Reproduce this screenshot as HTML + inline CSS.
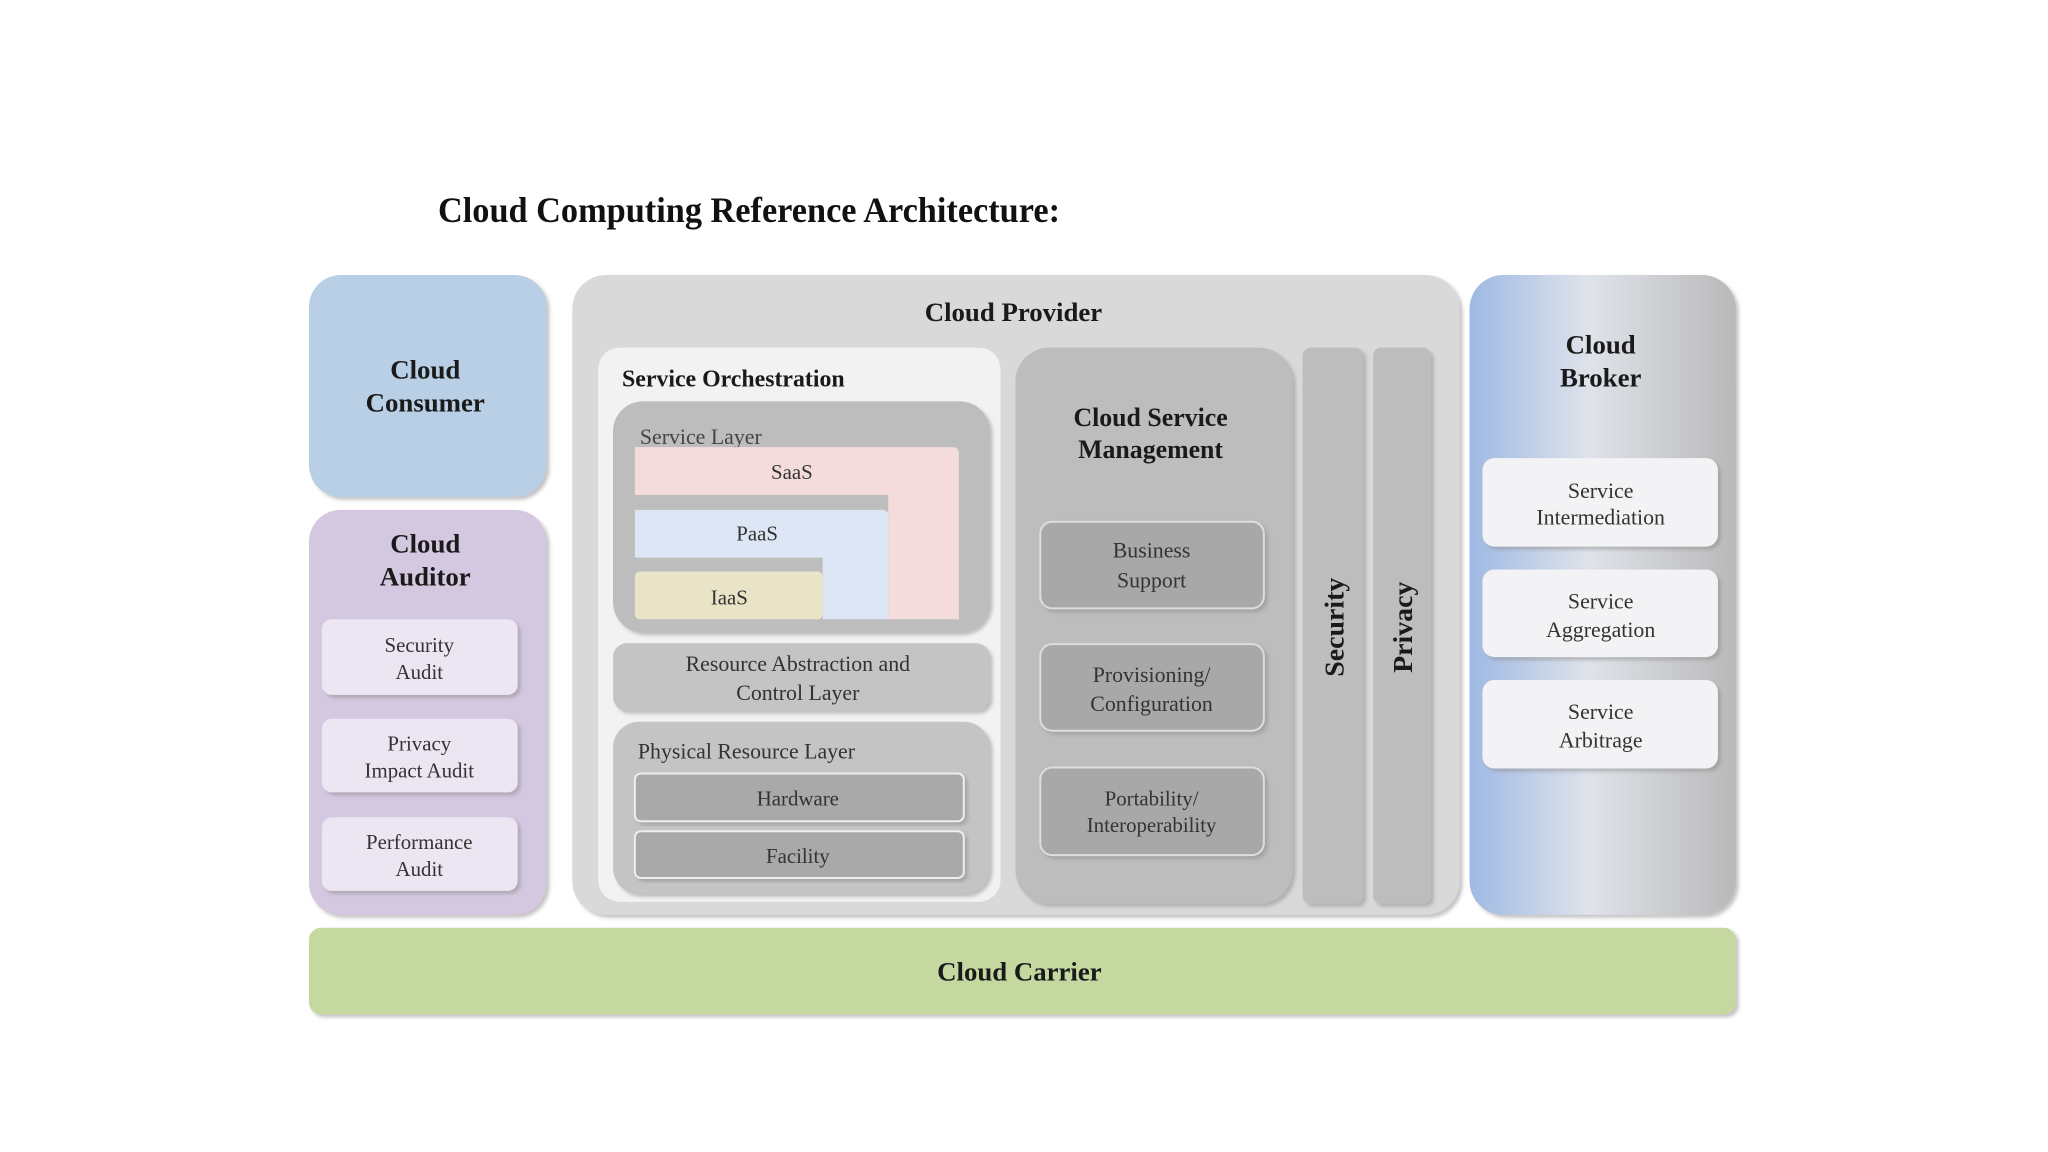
<!DOCTYPE html>
<html><head><meta charset="utf-8"><style>
html,body{margin:0;padding:0;background:#fff;}
svg{display:block;}
.t{font-family:"Liberation Serif",serif;font-weight:bold;fill:#1a1a1a;}
.s{font-family:"Liberation Serif",serif;fill:#333;}
</style></head><body>
<svg width="2048" height="1152" viewBox="0 0 2048 1152" xmlns="http://www.w3.org/2000/svg">
<defs>
<linearGradient id="bk" x1="0" x2="1" y1="0" y2="0">
<stop offset="0" stop-color="#9fb9e4"/><stop offset="0.45" stop-color="#dfe3ea"/><stop offset="1" stop-color="#b9b9b9"/>
</linearGradient>
<filter id="sh" x="-5%" y="-5%" width="115%" height="115%"><feDropShadow dx="3" dy="3" stdDeviation="2" flood-color="#888" flood-opacity="0.5"/></filter>
</defs>
<rect width="2048" height="1152" fill="#fff"/>
<text x="438" y="222" class="t" font-size="36" textLength="622" lengthAdjust="spacingAndGlyphs" style="fill:#111">Cloud Computing Reference Architecture:</text>

<g transform="translate(309,275) scale(0.9936,0.995) translate(-310,-276)">
<!-- Consumer -->
<rect x="310" y="276" width="239" height="223" rx="32" fill="#b9cfe6" filter="url(#sh)"/>
<text x="427" y="380" class="t" font-size="27" text-anchor="middle">Cloud</text>
<text x="427" y="413" class="t" font-size="27" text-anchor="middle">Consumer</text>

<!-- Auditor -->
<rect x="310" y="512" width="239" height="407" rx="32" fill="#d4c8e0" filter="url(#sh)"/>
<text x="427" y="555" class="t" font-size="27" text-anchor="middle">Cloud</text>
<text x="427" y="588" class="t" font-size="27" text-anchor="middle">Auditor</text>
<rect x="323" y="622" width="197" height="76" rx="10" fill="#ebe6f1" filter="url(#sh)"/>
<rect x="323" y="722" width="197" height="74" rx="10" fill="#ebe6f1" filter="url(#sh)"/>
<rect x="323" y="821" width="197" height="74" rx="10" fill="#ebe6f1" filter="url(#sh)"/>
<g class="s" font-size="21" text-anchor="middle">
<text x="421" y="655">Security</text><text x="421" y="682">Audit</text>
<text x="421" y="754">Privacy</text><text x="421" y="781">Impact Audit</text>
<text x="421" y="853">Performance</text><text x="421" y="880">Audit</text>
</g>

<!-- Provider -->
<rect x="575" y="276" width="893" height="643" rx="34" fill="#d9d9d9" filter="url(#sh)"/>
<text x="1019" y="322" class="t" font-size="27" text-anchor="middle">Cloud Provider</text>

<rect x="601" y="349" width="405" height="557" rx="22" fill="#f2f2f2"/>
<text x="625" y="388" class="t" font-size="24">Service Orchestration</text>

<rect x="616" y="403" width="379" height="232" rx="30" fill="#bdbdbd" filter="url(#sh)"/>
<text x="643" y="446" class="s" font-size="22" style="fill:#444">Service Layer</text>
<path d="M638 449 H958 Q964 449 964 455 V622 H893 V497 H638 Z" fill="#f5dcdc"/>
<path d="M638 512 H887 Q893 512 893 518 V622 H827 V560 H638 Z" fill="#dde6f4"/>
<rect x="638" y="574" width="189" height="48" rx="5" fill="#e9e3c7"/>
<g class="s" font-size="21" text-anchor="middle" style="fill:#333">
<text x="796" y="481">SaaS</text><text x="761" y="543">PaaS</text><text x="733" y="607">IaaS</text>
</g>

<rect x="616" y="646" width="379" height="68" rx="14" fill="#c4c4c4" filter="url(#sh)"/>
<text x="802" y="674" class="s" font-size="22" text-anchor="middle">Resource Abstraction and</text>
<text x="802" y="703" class="s" font-size="22" text-anchor="middle">Control Layer</text>

<rect x="616" y="725" width="379" height="173" rx="26" fill="#c4c4c4" filter="url(#sh)"/>
<text x="641" y="762" class="s" font-size="22">Physical Resource Layer</text>
<rect x="638" y="777" width="331" height="48" rx="6" fill="#a9a9a9" stroke="#eee" stroke-width="2" filter="url(#sh)"/>
<rect x="638" y="835" width="331" height="47" rx="6" fill="#a9a9a9" stroke="#eee" stroke-width="2" filter="url(#sh)"/>
<text x="802" y="809" class="s" font-size="21" text-anchor="middle">Hardware</text>
<text x="802" y="867" class="s" font-size="21" text-anchor="middle">Facility</text>

<rect x="1021" y="349" width="279" height="559" rx="34" fill="#bdbdbd" filter="url(#sh)"/>
<text x="1157" y="428" class="t" font-size="26" text-anchor="middle">Cloud Service</text>
<text x="1157" y="460" class="t" font-size="26" text-anchor="middle">Management</text>
<rect x="1046" y="524" width="225" height="87" rx="12" fill="#a8a8a8" stroke="#ddd" stroke-width="2" filter="url(#sh)"/>
<rect x="1046" y="647" width="225" height="87" rx="12" fill="#a8a8a8" stroke="#ddd" stroke-width="2" filter="url(#sh)"/>
<rect x="1046" y="771" width="225" height="88" rx="12" fill="#a8a8a8" stroke="#ddd" stroke-width="2" filter="url(#sh)"/>
<g class="s" font-size="22" text-anchor="middle">
<text x="1158" y="560">Business</text><text x="1158" y="590">Support</text>
<text x="1158" y="685">Provisioning/</text><text x="1158" y="714">Configuration</text>
<text x="1158" y="809" font-size="21">Portability/</text><text x="1158" y="836" font-size="21">Interoperability</text>
</g>

<rect x="1310" y="349" width="61" height="559" rx="8" fill="#bdbdbd" filter="url(#sh)"/>
<rect x="1381" y="349" width="58" height="559" rx="8" fill="#bdbdbd" filter="url(#sh)"/>
<text x="0" y="0" class="t" font-size="28" text-anchor="middle" transform="translate(1351 630) rotate(-90)">Security</text>
<text x="0" y="0" class="t" font-size="28" text-anchor="middle" transform="translate(1420 630) rotate(-90)">Privacy</text>

<!-- Broker -->
<rect x="1478" y="276" width="268" height="643" rx="34" fill="url(#bk)" filter="url(#sh)"/>
<text x="1610" y="355" class="t" font-size="27" text-anchor="middle">Cloud</text>
<text x="1610" y="388" class="t" font-size="27" text-anchor="middle">Broker</text>
<rect x="1491" y="460" width="237" height="89" rx="12" fill="#f3f3f5" filter="url(#sh)"/>
<rect x="1491" y="572" width="237" height="88" rx="12" fill="#f3f3f5" filter="url(#sh)"/>
<rect x="1491" y="683" width="237" height="89" rx="12" fill="#f3f3f5" filter="url(#sh)"/>
<g class="s" font-size="22" text-anchor="middle">
<text x="1610" y="500">Service</text><text x="1610" y="527">Intermediation</text>
<text x="1610" y="611">Service</text><text x="1610" y="640">Aggregation</text>
<text x="1610" y="722">Service</text><text x="1610" y="751">Arbitrage</text>
</g>

<!-- Carrier -->
<rect x="310" y="932" width="1436" height="87" rx="12" fill="#c5d8a0" filter="url(#sh)"/>
<text x="1025" y="985" class="t" font-size="27" text-anchor="middle">Cloud Carrier</text>
</g>
</svg>
</body></html>
